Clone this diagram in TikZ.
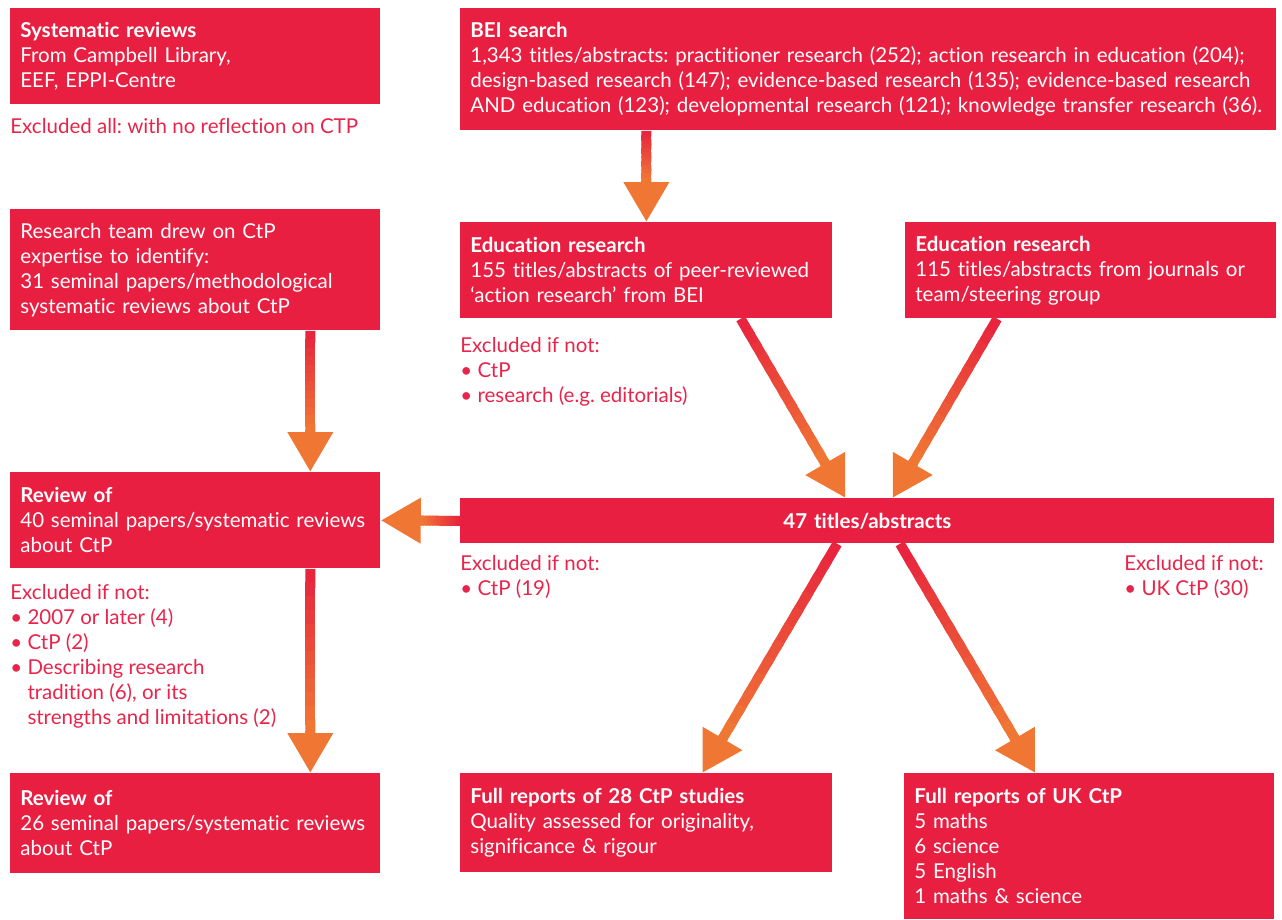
\documentclass[tikz,border=0pt]{standalone}
\usepackage{fontspec}
\setmainfont[Ligatures=NoCommon]{Lato}
\usetikzlibrary{arrows.meta,calc}
\frenchspacing

\definecolor{boxred}{RGB}{233,31,66}
\definecolor{exclred}{RGB}{232,36,74}
\definecolor{arrowred}{RGB}{232,36,62}
\definecolor{arroworange}{RGB}{240,118,52}

\newcommand\flowfont{\fontsize{20.5}{25}\selectfont}
\newcommand\bul{\textbullet\ }
\newcommand\bulgap{\phantom{\textbullet\ }}

\tikzset{every picture/.style={line width=0.75pt}}
\tikzset{
	box/.style={fill=boxred, text=white, anchor=north west, align=left, inner xsep=10pt, inner ysep=0pt, font=\flowfont},
	excl/.style={text=exclred, anchor=north west, align=left, inner sep=0pt, font=\flowfont},
	shaft/.style={line width=10pt},
	arrowtip/.style={-{Triangle[width=43pt,length=40pt]}, line width=10pt, draw=arroworange, fill=arroworange}}

% shaded arrow from #1 to #2
\newcommand\flow[2]{%
	\coordinate (fa) at (#1);
	\coordinate (fb) at (#2);
	\coordinate (fc) at ($(fb)!40pt!(fa)$);
	\foreach \k in {0,...,11}{%
		\pgfmathtruncatemacro\mix{100-100*\k/11}%
		\pgfmathsetmacro\ta{\k/12}%
		\pgfmathsetmacro\tb{min(1,(\k+1.4)/12)}%
		\draw[shaft, arrowred!\mix!arroworange] ($(fa)!\ta!(fc)$) -- ($(fa)!\tb!(fc)$);
	}
	\draw[arrowtip] ($(fc)!-2pt!(fb)$) -- (fb);
}

\begin{document}
\begin{tikzpicture}[x=1pt,y=1pt,yscale=-1,xscale=1]
	\useasboundingbox (0,0) rectangle (1282,919);

	%Shape: Rectangle [sysrev]
	\node[box, text width=350pt, minimum height=96pt] (sysrev) at (10,8) {\textbf{Systematic reviews}\\From Campbell Library,\\EEF, EPPI-Centre};
	%Shape: Rectangle [bei]
	\node[box, text width=796pt, minimum height=122pt] (bei) at (460,8) {\textbf{BEI search}\\1,343 titles/abstracts: practitioner research (252); action research in education (204);\\design-based research (147); evidence-based research (135); evidence-based research\\AND education (123); developmental research (121); knowledge transfer research (36).};
	%Shape: Rectangle [team]
	\node[box, text width=350pt, minimum height=121pt] (team) at (10,209) {Research team drew on CtP\\expertise to identify:\\31 seminal papers/methodological\\systematic reviews about CtP};
	%Shape: Rectangle [edua]
	\node[box, text width=352pt, minimum height=96pt] (edua) at (460,222) {\textbf{Education research}\\155 titles/abstracts of peer-reviewed\\`action research' from BEI};
	%Shape: Rectangle [edub]
	\node[box, text width=351pt, minimum height=96pt] (edub) at (905,222) {\textbf{Education research}\\115 titles/abstracts from journals or\\team/steering group};
	%Shape: Rectangle [revforty]
	\node[box, text width=350pt, minimum height=96pt] (revforty) at (10,472) {\textbf{Review of}\\40 seminal papers/systematic reviews\\about CtP};
	%Shape: Rectangle [titles]
	\node[box, text width=794pt, minimum height=45pt, align=center] (titles) at (460,498) {\textbf{47 titles/abstracts}};
	%Shape: Rectangle [revtwenty]
	\node[box, text width=350pt, minimum height=100pt] (revtwenty) at (10,773) {\textbf{Review of}\\26 seminal papers/systematic reviews\\about CtP};
	%Shape: Rectangle [fullctp]
	\node[box, text width=352pt, minimum height=99pt] (fullctp) at (460,773) {\textbf{Full reports of 28 CtP studies}\\Quality assessed for originality,\\significance \& rigour};
	%Shape: Rectangle [fulluk]
	\node[box, text width=350pt, minimum height=146pt] (fulluk) at (904,773) {\textbf{Full reports of UK CtP}\\5 maths\\6 science\\5 English\\1 maths \& science};

	% Text Node
	\node[excl] (exclsys) at (10,118) {Excluded all: with no reflection on CTP};
	% Text Node
	\node[excl] (excledu) at (460,337) {Excluded if not:\\\bul CtP\\\bul research (e.g. editorials)};
	% Text Node
	\node[excl] (exclrev) at (10,584) {Excluded if not:\\\bul 2007 or later (4)\\\bul CtP (2)\\\bul Describing research\\\bulgap tradition (6), or its\\\bulgap strengths and limitations (2)};
	% Text Node
	\node[excl] (excltl) at (460,555) {Excluded if not:\\\bul CtP (19)};
	% Text Node
	\node[excl] (excltr) at (1124,555) {Excluded if not:\\\bul UK CtP (30)};

	%Straight Lines
	\flow{bei.south -| edua.north}{edua.north}
	\flow{$(team.south west)!0.81!(team.south east)$}{$(revforty.north west)!0.81!(revforty.north east)$}
	\flow{$(revforty.south west)!0.81!(revforty.south east)$}{$(revtwenty.north west)!0.81!(revtwenty.north east)$}
	\flow{titles.west}{revforty.east}
	\flow{$(edua.south west)!0.753!(edua.south east)$}{$(titles.north west)!0.473!(titles.north east)$}
	\flow{$(edub.south west)!0.248!(edub.south east)$}{$(titles.north west)!0.531!(titles.north east)$}
	\flow{$(titles.south west)!0.463!(titles.south east)$}{$(fullctp.north west)!0.65!(fullctp.north east)$}
	\flow{$(titles.south west)!0.54!(titles.south east)$}{$(fulluk.north west)!0.354!(fulluk.north east)$}

\end{tikzpicture}
\end{document}
